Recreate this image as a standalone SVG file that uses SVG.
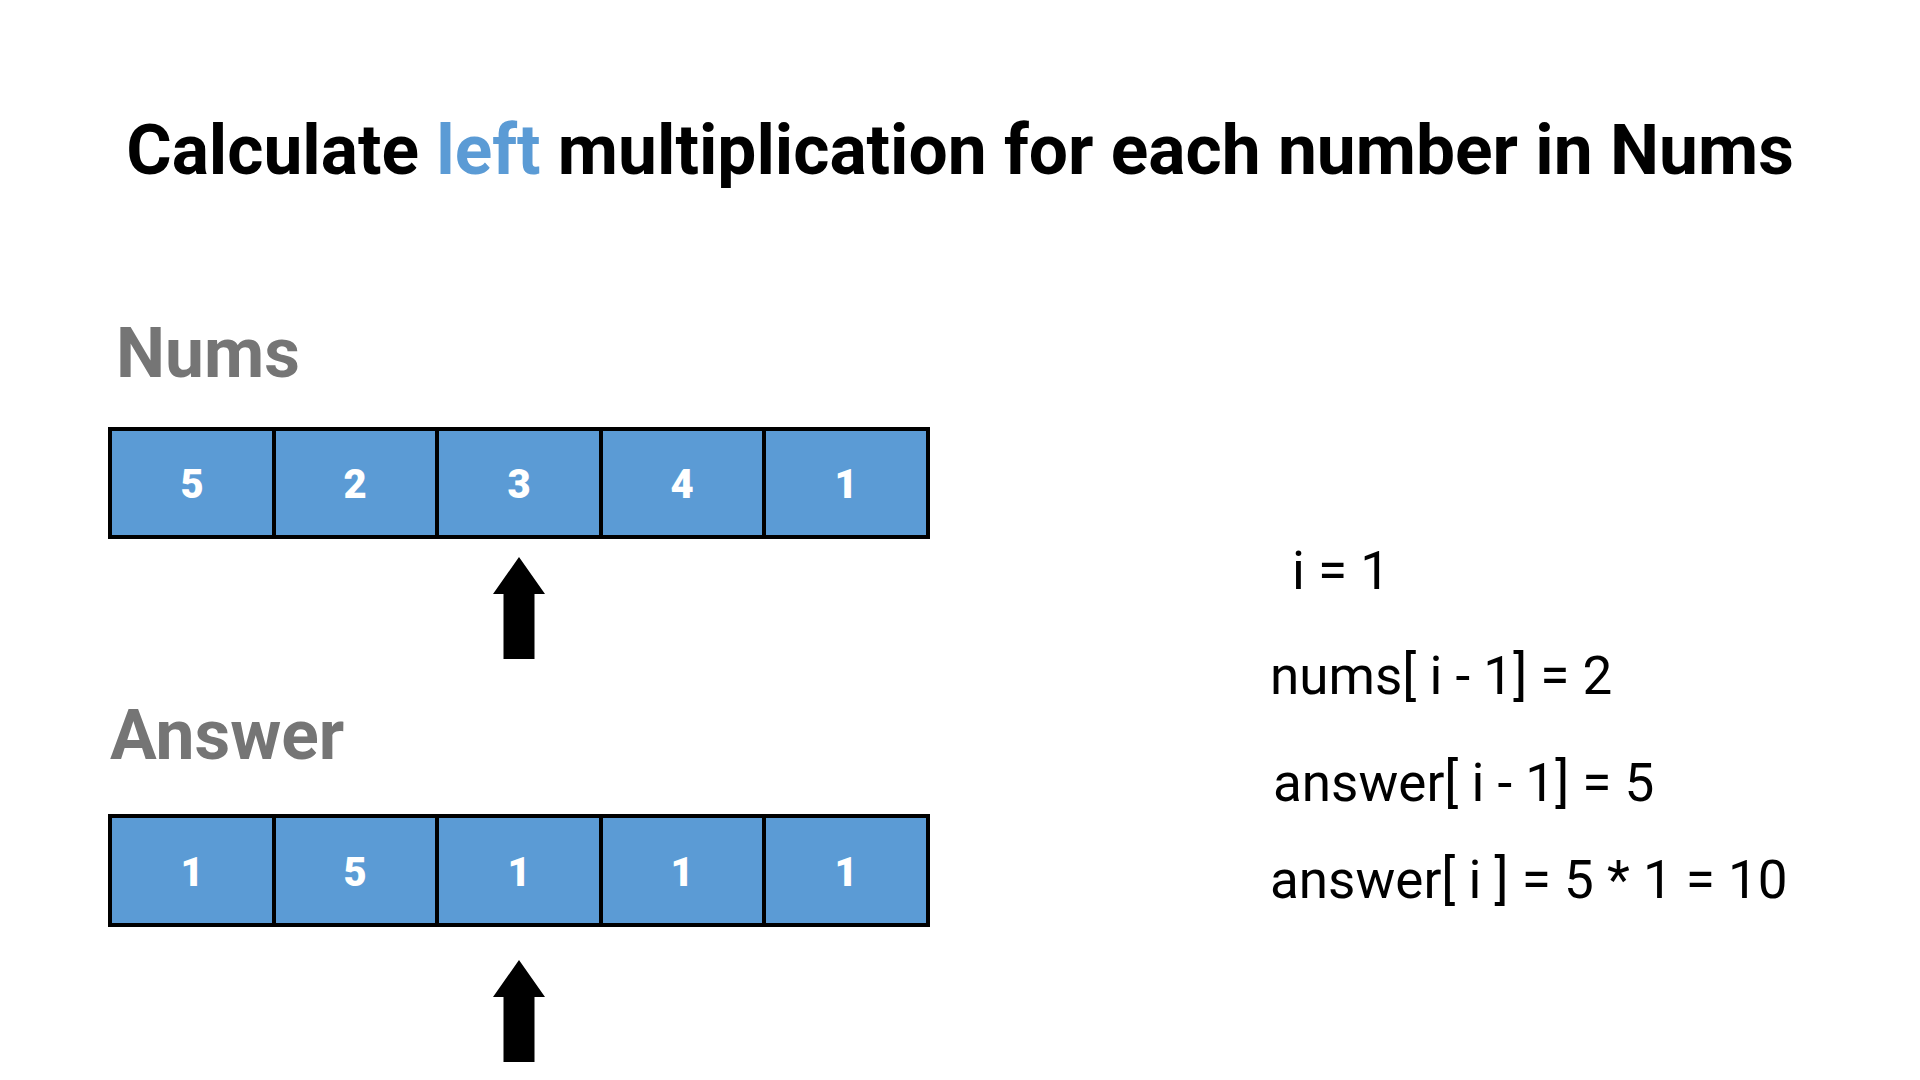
<svg xmlns="http://www.w3.org/2000/svg" width="1920" height="1080" viewBox="0 0 1920 1080">
<style>
.title{font-family:Roboto,"Liberation Sans",sans-serif;font-weight:bold;font-size:69.5px;fill:#000}
.lbl{font-family:Roboto,"Liberation Sans",sans-serif;font-weight:bold;font-size:69.5px;fill:#757575}
.cell{fill:#5b9bd5;stroke:#000;stroke-width:4}
.num{font-family:Roboto,"Liberation Sans",sans-serif;font-weight:900;font-size:40px;fill:#fff;text-anchor:middle}
.eq{font-family:Roboto,"Liberation Sans",sans-serif;font-size:53px;fill:#000}
</style>
<defs>
<path id="arrow" d="M0,0 L26,37 L15.5,37 L15.5,102 L-15.5,102 L-15.5,37 L-26,37 Z" fill="#000"/>
</defs>
<rect width="1920" height="1080" fill="#fff"/>
<text class="title" x="960" y="174" text-anchor="middle">Calculate <tspan fill="#5b9bd5">left</tspan> multiplication for each number in Nums</text>
<g id="nums-label"><text class="lbl" x="116" y="377">Nums</text></g>
<g id="nums">
<rect class="cell" x="110" y="429" width="164" height="108"/><text class="num" x="192" y="498">5</text>
<rect class="cell" x="274" y="429" width="163" height="108"/><text class="num" x="355" y="498">2</text>
<rect class="cell" x="437" y="429" width="164" height="108"/><text class="num" x="519" y="498">3</text>
<rect class="cell" x="601" y="429" width="163" height="108"/><text class="num" x="682" y="498">4</text>
<rect class="cell" x="764" y="429" width="164" height="108"/><text class="num" x="846" y="498">1</text>
</g>
<g id="answer-label"><text class="lbl" x="110" y="759">Answer</text></g>
<g id="answer">
<rect class="cell" x="110" y="816" width="164" height="109"/><text class="num" x="192" y="886">1</text>
<rect class="cell" x="274" y="816" width="163" height="109"/><text class="num" x="355" y="886">5</text>
<rect class="cell" x="437" y="816" width="164" height="109"/><text class="num" x="519" y="886">1</text>
<rect class="cell" x="601" y="816" width="163" height="109"/><text class="num" x="682" y="886">1</text>
<rect class="cell" x="764" y="816" width="164" height="109"/><text class="num" x="846" y="886">1</text>
</g>
<g id="connectors">
<use href="#arrow" x="519" y="557"/>
<use href="#arrow" x="519" y="960"/>
</g>
<g id="equations">
<text class="eq" x="1292" y="589">i = 1</text>
<text class="eq" x="1270" y="694">nums[ i - 1] = 2</text>
<text class="eq" x="1273" y="801">answer[ i - 1] = 5</text>
<text class="eq" x="1270" y="898">answer[ i ] = 5 * 1 = 10</text>
</g>
</svg>
